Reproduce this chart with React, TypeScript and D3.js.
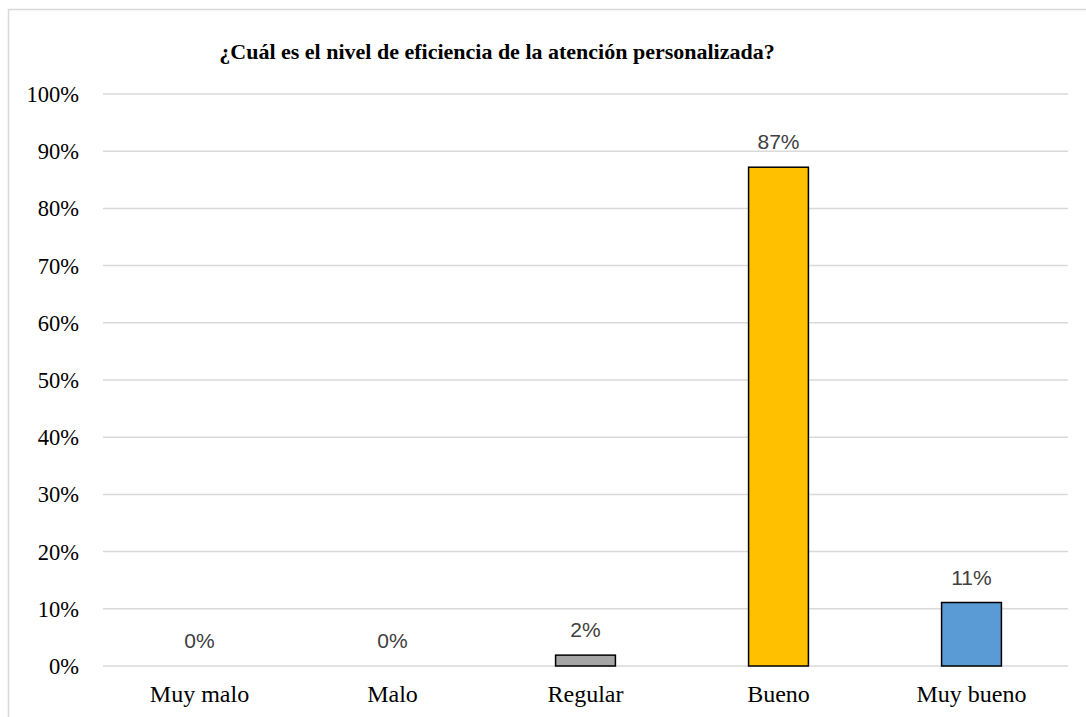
import React from "react";
import * as d3 from "d3";

const categories = ["Muy malo", "Malo", "Regular", "Bueno", "Muy bueno"];
const values = [0, 0, 0.019, 0.872, 0.111];
const colors = ["#a5a5a5", "#a5a5a5", "#a5a5a5", "#ffc000", "#5b9bd5"];
const yTicks = [0, 0.1, 0.2, 0.3, 0.4, 0.5, 0.6, 0.7, 0.8, 0.9, 1.0];
const title = "¿Cuál es el nivel de eficiencia de la atención personalizada?";

const SERIF = "Liberation Serif, Times New Roman, Tinos, Times, DejaVu Serif, serif";

export default function App() {
  const W = 1086, H = 717;
  const left = 103, right = 1068, top = 94, bottom = 666;
  const x = d3.scaleBand<string>().domain(categories).range([left, right]).paddingInner(0.69).paddingOuter(0.345);
  const y = d3.scaleLinear().domain([0, 1]).range([bottom, top]);
  const fmt = d3.format(".0%");
  return (
    <svg width={W} height={H} style={{ position: "absolute", left: 0, top: 0, background: "#fff" }}>
      <rect x={8.5} y={9.5} width={1200} height={800} fill="#fff" stroke="#d9d9d9" strokeWidth={1.5} />
      <text x={497} y={59} textAnchor="middle" style={{ fontFamily: SERIF }} fontWeight="bold" fontSize={22} fill="#000">{title}</text>
      {yTicks.map((t) => (
        <g key={t}>
          <line x1={left} x2={right} y1={y(t)} y2={y(t)} stroke="#d9d9d9" strokeWidth={1.5} />
          <text x={79} y={y(t) + 8} textAnchor="end" style={{ fontFamily: SERIF }} fontSize={22.5} fill="#000">{fmt(t)}</text>
        </g>
      ))}
      {categories.map((c, i) => {
        const bx = x(c)!;
        const by = y(values[i]);
        const h = bottom - by;
        return (
          <g key={c}>
            {h > 0 && (
              <rect x={bx} y={by} width={x.bandwidth()} height={h} fill={colors[i]} stroke="#000" strokeWidth={1.5} />
            )}
            <text x={bx + x.bandwidth() / 2} y={by - 18} textAnchor="middle" style={{ fontFamily: "Liberation Sans, Arial, sans-serif" }} fontSize={21} fill="#404040">{fmt(values[i])}</text>
            <text x={bx + x.bandwidth() / 2} y={702} textAnchor="middle" style={{ fontFamily: SERIF }} fontSize={24} fill="#000">{c}</text>
          </g>
        );
      })}
    </svg>
  );
}
